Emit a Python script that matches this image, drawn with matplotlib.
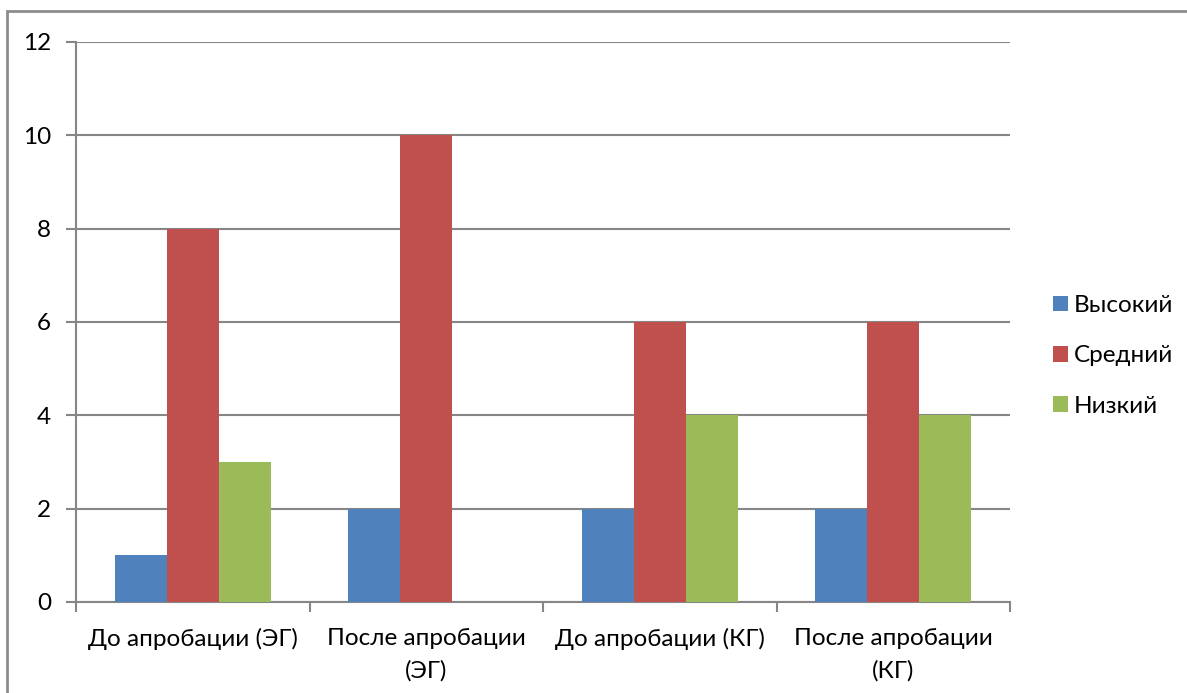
import matplotlib
matplotlib.use("Agg")
import matplotlib.pyplot as plt
from matplotlib.patches import Rectangle, Patch
import numpy as np

plt.rcParams['font.family'] = ['Lato', 'Open Sans', 'DejaVu Sans']

categories = ["До апробации (ЭГ)", "После апробации\n(ЭГ)",
              "До апробации (КГ)", "После апробации\n(КГ)"]
series_names = ["Высокий", "Средний", "Низкий"]
high = [1, 2, 2, 2]
medium = [8, 10, 6, 6]
low = [3, 0, 4, 4]
y_ticks = [0, 2, 4, 6, 8, 10, 12]

colors = ["#4F81BD", "#C0504D", "#9BBB59"]
grid_color = "#868686"
fs = 17.5

W, H = 1187, 693
fig = plt.figure(figsize=(W / 100, H / 100), dpi=100)
ax = fig.add_axes([76 / W, 1 - 602 / H, (1010 - 76) / W, (602 - 42) / H])

x = np.arange(len(categories))
bw = 1 / 4.5
for i, (vals, c) in enumerate(zip([high, medium, low], colors)):
    ax.bar(x + (i - 1) * bw, vals, width=bw, color=c, linewidth=0, zorder=3)

ax.set_xlim(-0.5, len(categories) - 0.5)
ax.set_ylim(0, 12)
ax.set_yticks(y_ticks)
ax.set_yticklabels([str(v) for v in y_ticks], fontsize=fs)
ax.yaxis.grid(True, color=grid_color, linewidth=1.5, zorder=0)
ax.tick_params(axis='y', length=7, width=1.5, color=grid_color, pad=11)

ax.set_xticks(x)
ax.set_xticklabels(categories, fontsize=fs, linespacing=1.6)
ax.set_xticks(np.arange(-0.5, len(categories)), minor=True)
ax.tick_params(axis='x', which='major', length=0, pad=19)
ax.tick_params(axis='x', which='minor', length=7, width=1.5, color=grid_color)

for s in ['top', 'right']:
    ax.spines[s].set_visible(False)
for s in ['left', 'bottom']:
    ax.spines[s].set_color(grid_color)
    ax.spines[s].set_linewidth(1.5)

handles = [Patch(facecolor=c, edgecolor='none', label=n) for c, n in zip(colors, series_names)]
fig.legend(handles=handles, loc='center left', bbox_to_anchor=(1041 / W, 1 - 356 / H),
           frameon=False, fontsize=fs, handlelength=0.6, handleheight=0.6,
           handletextpad=0.25, labelspacing=1.2, borderpad=0)

fig.patches.append(Rectangle((7 / W, -0.05), 1.1, 1 - 11 / H + 0.05,
                             transform=fig.transFigure, fill=False,
                             edgecolor="#8C8C8C", linewidth=2))

fig.savefig("out.png", dpi=100)
